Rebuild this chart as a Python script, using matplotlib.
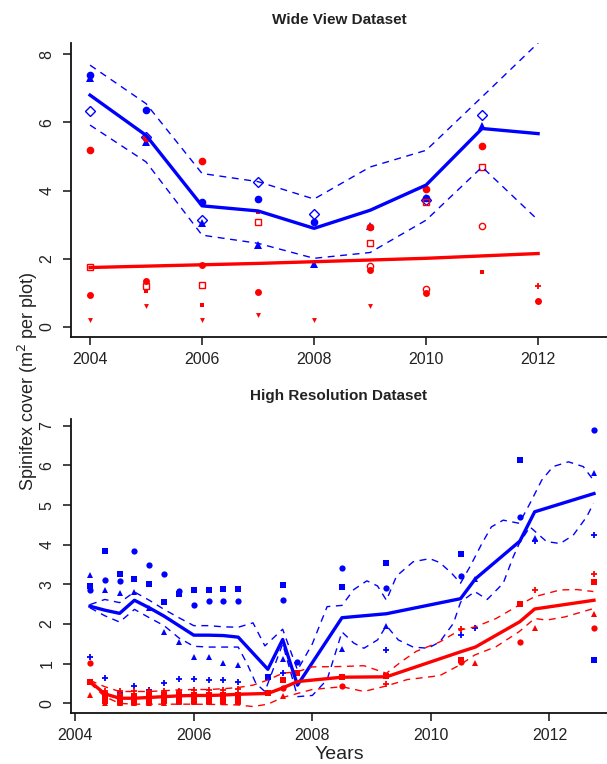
import numpy as np
import matplotlib
matplotlib.use("Agg")
import matplotlib.pyplot as plt

plt.rcParams['font.family'] = ['Liberation Sans', 'DejaVu Sans']

BLUE = "#0000ff"
RED = "#ff0000"
TXT = "#222222"

# ===== 1. Wide View data =====
wide_years = [2004, 2005, 2006, 2007, 2008, 2009, 2010, 2011, 2012]
wide_blue_fit = [6.80, 5.62, 3.55, 3.40, 2.89, 3.42, 4.16, 5.82, 5.67]
wide_blue_upper = [7.68, 6.55, 4.50, 4.26, 3.75, 4.69, 5.18, 6.75, 8.33]
wide_blue_lower = [5.92, 4.84, 2.69, 2.45, 2.01, 2.18, 3.13, 4.69, 3.13]
wide_red_fit = [1.74, 1.78, 1.82, 1.86, 1.91, 1.96, 2.01, 2.08, 2.15]

# blue observations
wb_circ_x = [2004, 2005, 2006, 2007, 2008, 2010]
wb_circ_y = [7.38, 6.37, 3.67, 3.75, 3.07, 3.78]
wb_tri_x = [2004, 2005, 2006, 2007, 2008, 2009, 2010, 2011]
wb_tri_y = [7.30, 5.43, 3.05, 2.40, 1.83, 2.96, 3.79, 5.89]
wb_diam_x = [2004, 2005, 2006, 2007, 2008, 2010, 2011]
wb_diam_y = [6.34, 5.56, 3.13, 4.26, 3.31, 3.71, 6.21]

# red observations
wr_circ_x = [2004, 2005, 2006, 2009, 2010, 2011]
wr_circ_y = [5.19, 5.53, 4.88, 2.94, 4.04, 5.31]
wr_circ2_x = [2004, 2005, 2006, 2007, 2009, 2010, 2012]
wr_circ2_y = [0.93, 1.33, 1.80, 1.02, 1.66, 1.00, 0.75]
wr_sq_x = [2004, 2005, 2006, 2007, 2009, 2010, 2011]
wr_sq_y = [1.76, 1.19, 1.24, 3.08, 2.45, 3.67, 4.68]
wr_ocirc_x = [2009, 2010, 2011]
wr_ocirc_y = [1.79, 1.11, 2.96]
wr_down_x = [2004, 2005, 2006, 2007, 2008, 2009]
wr_down_y = [0.20, 0.61, 0.20, 0.35, 0.20, 0.61]
wr_dot_x = [2005, 2006, 2007, 2011]
wr_dot_y = [1.05, 0.65, 3.38, 1.61]
wr_plus_x = [2012]
wr_plus_y = [1.20]

# ===== 2. High Resolution data =====
hr_t = [2004.25, 2004.5, 2004.75, 2005.0, 2005.25, 2005.5, 2005.75, 2006.0,
        2006.25, 2006.5, 2006.75, 2007.25, 2007.5, 2007.75, 2008.5, 2009.25,
        2010.5, 2010.75, 2011.5, 2011.75, 2012.75]
hr_blue_fit = [2.45, 2.35, 2.27, 2.60, 2.41, 2.20, 1.96, 1.72, 1.72, 1.71, 1.67,
               0.86, 1.61, 0.46, 2.16, 2.26, 2.64, 3.14, 4.09, 4.83, 5.29]
hr_red_fit = [0.55, 0.24, 0.13, 0.13, 0.15, 0.17, 0.19, 0.20, 0.20, 0.21, 0.23,
              0.25, 0.39, 0.55, 0.66, 0.67, 1.30, 1.42, 2.06, 2.38, 2.60]

hb_up_x = [2004.25, 2004.5, 2004.75, 2005.0, 2005.25, 2005.5, 2005.75, 2006.0,
           2006.25, 2006.5, 2006.75, 2007.0, 2007.2, 2007.5, 2007.75, 2008.0,
           2008.25, 2008.5, 2008.7, 2008.92, 2009.1, 2009.25, 2009.42, 2009.7,
           2009.98, 2010.15, 2010.35, 2010.5, 2010.66, 2010.86, 2011.02, 2011.22,
           2011.49, 2011.67, 2011.87, 2012.06, 2012.32, 2012.57, 2012.74]
hb_up_y = [2.49, 2.62, 2.54, 2.81, 2.60, 2.37, 2.16, 1.96,
           1.96, 1.93, 1.92, 2.03, 1.45, 1.87, 0.84, 1.50,
           2.44, 2.47, 2.87, 3.09, 2.96, 2.60, 3.21, 3.57,
           3.65, 3.55, 3.28, 3.03, 3.45, 4.03, 4.45, 4.62,
           4.54, 5.04, 5.63, 5.97, 6.09, 5.97, 5.63]
hb_lo_x = [2004.25, 2004.5, 2004.75, 2005.0, 2005.25, 2005.5, 2005.75, 2006.0,
           2006.25, 2006.5, 2006.75, 2006.9, 2007.05, 2007.2, 2007.5, 2007.75,
           2008.0, 2008.25, 2008.5, 2008.7, 2008.87, 2009.1, 2009.25, 2009.45,
           2009.7, 2009.95, 2010.15, 2010.38, 2010.5, 2010.74, 2010.95, 2011.22,
           2011.39, 2011.49, 2011.67, 2011.95, 2012.18, 2012.4, 2012.63, 2012.74]
hb_lo_y = [2.41, 2.21, 2.05, 2.37, 2.16, 1.96, 1.65, 1.44,
           1.42, 1.42, 1.42, 1.00, 0.50, 0.30, 1.50, 0.17,
           0.20, 0.60, 1.80, 1.52, 1.39, 1.60, 1.96, 1.60,
           1.42, 1.39, 1.55, 2.02, 2.55, 2.82, 2.62, 3.03,
           3.70, 4.03, 4.45, 4.08, 4.03, 4.24, 4.71, 5.04]

hr_up_x = [2004.25, 2004.5, 2004.75, 2005.0, 2005.25, 2005.5, 2005.75, 2006.0,
           2006.25, 2006.5, 2006.75, 2007.0, 2007.25, 2007.5, 2007.75, 2008.0,
           2008.5, 2008.87, 2009.25, 2009.5, 2009.75, 2010.15, 2010.49, 2010.75,
           2011.1, 2011.49, 2011.75, 2012.18, 2012.46, 2012.74]
hr_up_y = [0.58, 0.42, 0.30, 0.30, 0.30, 0.32, 0.34, 0.35,
           0.35, 0.37, 0.40, 0.46, 0.59, 0.76, 0.80, 0.92,
           0.93, 0.95, 0.76, 1.05, 1.31, 1.55, 1.85, 1.93,
           2.14, 2.48, 2.69, 2.86, 2.87, 2.82]
hr_lo_x = [2004.25, 2004.5, 2004.75, 2005.0, 2005.5, 2006.0, 2006.5, 2006.75,
           2007.0, 2007.25, 2007.5, 2007.75, 2008.0, 2008.5, 2008.87, 2009.25,
           2009.6, 2010.15, 2010.49, 2010.74, 2011.1, 2011.49, 2011.75, 2011.95,
           2012.26, 2012.74]
hr_lo_y = [0.51, 0.17, 0.00, -0.02, -0.02, -0.02, -0.03, -0.04,
           -0.08, -0.02, 0.15, 0.25, 0.35, 0.42, 0.30, 0.44,
           0.60, 0.70, 0.97, 1.22, 1.43, 1.81, 2.14, 2.10,
           2.18, 2.39]

# blue observations (high res)
hb_sq_x = [2004.25, 2004.5, 2004.75, 2005.0, 2005.25, 2005.5, 2005.75, 2006.0, 2006.25,
           2006.5, 2006.75, 2007.25, 2007.5, 2008.5, 2009.25, 2010.5, 2011.5, 2012.75]
hb_sq_y = [2.96, 3.85, 3.27, 3.13, 3.00, 2.56, 2.76, 2.86, 2.86,
           2.89, 2.89, 0.67, 2.98, 2.94, 3.55, 3.77, 6.13, 1.09]
hb_circ_x = [2004.25, 2004.5, 2004.75, 2005.0, 2005.25, 2005.5, 2005.75, 2006.0, 2006.25,
             2006.5, 2006.75, 2007.5, 2007.75, 2008.5, 2009.25, 2010.5, 2011.5, 2012.75]
hb_circ_y = [2.87, 3.10, 3.09, 3.85, 3.49, 3.25, 2.83, 2.49, 2.58,
             2.58, 2.58, 2.60, 1.05, 3.41, 2.92, 3.20, 4.71, 6.89]
hb_tri_x = [2004.25, 2004.5, 2004.75, 2005.0, 2005.25, 2005.5, 2005.75, 2006.0, 2006.25,
            2006.5, 2006.75, 2007.5, 2008.5, 2009.25, 2010.75, 2011.75, 2012.75]
hb_tri_y = [3.24, 2.87, 2.79, 2.82, 2.41, 1.80, 1.55, 1.17, 1.17,
            1.01, 0.97, 1.13, 1.37, 1.94, 3.13, 4.16, 5.82]
hb_small_x = [2004.25, 2004.5, 2004.75, 2005.0, 2005.25, 2005.5, 2005.75, 2006.0, 2006.25,
              2006.5, 2006.75, 2007.5, 2009.25, 2010.5, 2010.75, 2011.75, 2012.75]
hb_small_y = [1.18, 0.65, 0.27, 0.44, 0.35, 0.52, 0.61, 0.61, 0.59,
              0.59, 0.55, 0.76, 1.34, 1.72, 1.89, 4.09, 4.24]

# red observations (high res)
hrr_sq_x = [2004.25, 2004.5, 2004.75, 2005.0, 2005.25, 2005.5, 2005.75, 2006.0, 2006.25,
            2006.5, 2006.75, 2007.25, 2007.5, 2007.75, 2008.5, 2009.25, 2010.5, 2011.5, 2012.75]
hrr_sq_y = [0.55, 0.05, 0.04, 0.04, 0.05, 0.05, 0.06, 0.06, 0.06,
            0.06, 0.06, 0.25, 0.59, 0.76, 0.67, 0.68, 1.09, 2.50, 3.05]
hrr_sq2_x = [2004.5, 2004.75, 2005.0, 2005.25, 2005.5, 2005.75, 2006.0, 2006.25, 2006.5, 2006.75]
hrr_sq2_y = [0.20, 0.18, 0.18, 0.20, 0.20, 0.21, 0.21, 0.22, 0.22, 0.22]
hrr_circ_x = [2004.25, 2007.5, 2008.5, 2010.5, 2011.5, 2012.75]
hrr_circ_y = [1.01, 0.40, 0.44, 1.05, 1.55, 1.89]
hrr_tri_x = [2004.25, 2004.5, 2004.75, 2005.0, 2005.25, 2005.5, 2005.75, 2006.0, 2006.25,
             2006.5, 2006.75, 2007.5, 2010.75, 2011.75, 2012.75]
hrr_tri_y = [0.21, 0.02, 0.01, 0.01, 0.02, 0.02, 0.03, 0.03, 0.03,
             0.03, 0.03, 0.18, 1.01, 1.89, 2.25]
hrr_small_x = [2004.5, 2004.75, 2005.0, 2005.25, 2005.5, 2005.75, 2006.0, 2006.25, 2006.5,
               2006.75, 2009.25, 2010.5, 2011.75, 2012.75]
hrr_small_y = [0.32, 0.30, 0.30, 0.30, 0.32, 0.32, 0.33, 0.33, 0.34,
               0.36, 0.50, 1.87, 2.86, 3.26]

# ===== 3. figure =====
fig = plt.figure(figsize=(6.07, 7.64), dpi=100)
W, H = 607.0, 764.0
ax1 = fig.add_axes([71 / W, 1 - 337 / H, 536 / W, 294 / H])
ax2 = fig.add_axes([71 / W, 1 - 713.3 / H, 536 / W, 294.3 / H])


def style(ax, yticks):
    for s in ["top", "right"]:
        ax.spines[s].set_visible(False)
    for s in ["left", "bottom"]:
        ax.spines[s].set_linewidth(1.3)
        ax.spines[s].set_color("#111111")
    ax.set_xticks([2004, 2006, 2008, 2010, 2012])
    ax.set_xticklabels(["2004", "2006", "2008", "2010", "2012"])
    ax.set_yticks(yticks)
    ax.set_yticklabels([str(v) for v in yticks], rotation=90, va="center")
    ax.tick_params(axis="both", direction="out", length=6, width=1.1,
                   colors="#111111", labelcolor=TXT, labelsize=11.5)
    ax.tick_params(axis="y", pad=6)
    ax.tick_params(axis="x", pad=4.5)


def pts(ax, x, y, m, c, ms, filled=True, mew=1.0):
    if filled:
        ax.plot(x, y, ls="none", marker=m, color=c, ms=ms, mew=0)
    else:
        ax.plot(x, y, ls="none", marker=m, mfc="none", mec=c, ms=ms, mew=mew)


# ----- top panel -----
pts(ax1, wb_circ_x, wb_circ_y, "o", BLUE, 5.5)
pts(ax1, wb_tri_x, wb_tri_y, "^", BLUE, 5.5)
pts(ax1, wb_diam_x, wb_diam_y, "D", BLUE, 5.0, filled=False)
pts(ax1, wr_circ_x, wr_circ_y, "o", RED, 5.5)
pts(ax1, wr_circ2_x, wr_circ2_y, "o", RED, 5.0)
pts(ax1, wr_sq_x, wr_sq_y, "s", RED, 5.0, filled=False)
pts(ax1, wr_ocirc_x, wr_ocirc_y, "o", RED, 4.5, filled=False)
pts(ax1, wr_down_x, wr_down_y, "v", RED, 3.5)
pts(ax1, wr_dot_x, wr_dot_y, "s", RED, 3.0)
pts(ax1, wr_plus_x, wr_plus_y, "+", RED, 4.0, filled=False, mew=1.3)

ax1.plot(wide_years, wide_blue_upper, color=BLUE, lw=1.0, dashes=(5, 4))
ax1.plot(wide_years, wide_blue_lower, color=BLUE, lw=1.0, dashes=(5, 4))
ax1.plot(wide_years, wide_blue_fit, color=BLUE, lw=2.4, solid_joinstyle="round")
ax1.plot(wide_years, wide_red_fit, color=RED, lw=2.4)

ax1.set_xlim(2003.66, 2013.23)
ax1.set_ylim(-0.30, 8.33)
style(ax1, [0, 2, 4, 6, 8])
ax1.set_title("Wide View Dataset", fontsize=11, fontweight="bold", color=TXT, pad=14)

# ----- bottom panel -----
pts(ax2, hb_sq_x, hb_sq_y, "s", BLUE, 4.0)
pts(ax2, hb_circ_x, hb_circ_y, "o", BLUE, 4.5)
pts(ax2, hb_tri_x, hb_tri_y, "^", BLUE, 4.5)
pts(ax2, hb_small_x, hb_small_y, "+", BLUE, 4.0, filled=False, mew=1.3)
pts(ax2, hrr_sq_x, hrr_sq_y, "s", RED, 4.0)
pts(ax2, hrr_sq2_x, hrr_sq2_y, "s", RED, 4.0)
pts(ax2, hrr_circ_x, hrr_circ_y, "o", RED, 4.5)
pts(ax2, hrr_tri_x, hrr_tri_y, "^", RED, 4.5)
pts(ax2, hrr_small_x, hrr_small_y, "+", RED, 4.0, filled=False, mew=1.3)

ax2.plot(hb_up_x, hb_up_y, color=BLUE, lw=1.0, dashes=(5, 4))
ax2.plot(hb_lo_x, hb_lo_y, color=BLUE, lw=1.0, dashes=(5, 4))
ax2.plot(hr_t, hr_blue_fit, color=BLUE, lw=2.4)
ax2.plot(hr_up_x, hr_up_y, color=RED, lw=1.0, dashes=(5, 4))
ax2.plot(hr_lo_x, hr_lo_y, color=RED, lw=1.0, dashes=(5, 4))
ax2.plot(hr_t, hr_red_fit, color=RED, lw=2.4)

ax2.set_xlim(2003.93, 2012.97)
ax2.set_ylim(-0.25, 7.17)
style(ax2, [0, 1, 2, 3, 4, 5, 6, 7])
ax2.set_title("High Resolution Dataset", fontsize=11, fontweight="bold", color=TXT, pad=14)
ax2.set_xlabel("Years", fontsize=14, color=TXT, labelpad=2)

fig.text(28 / W, 1 - 381 / H, "Spinifex cover (m$^2$ per plot)", rotation=90,
         ha="center", va="center", fontsize=13, color=TXT)

fig.savefig("out.png", dpi=100)
